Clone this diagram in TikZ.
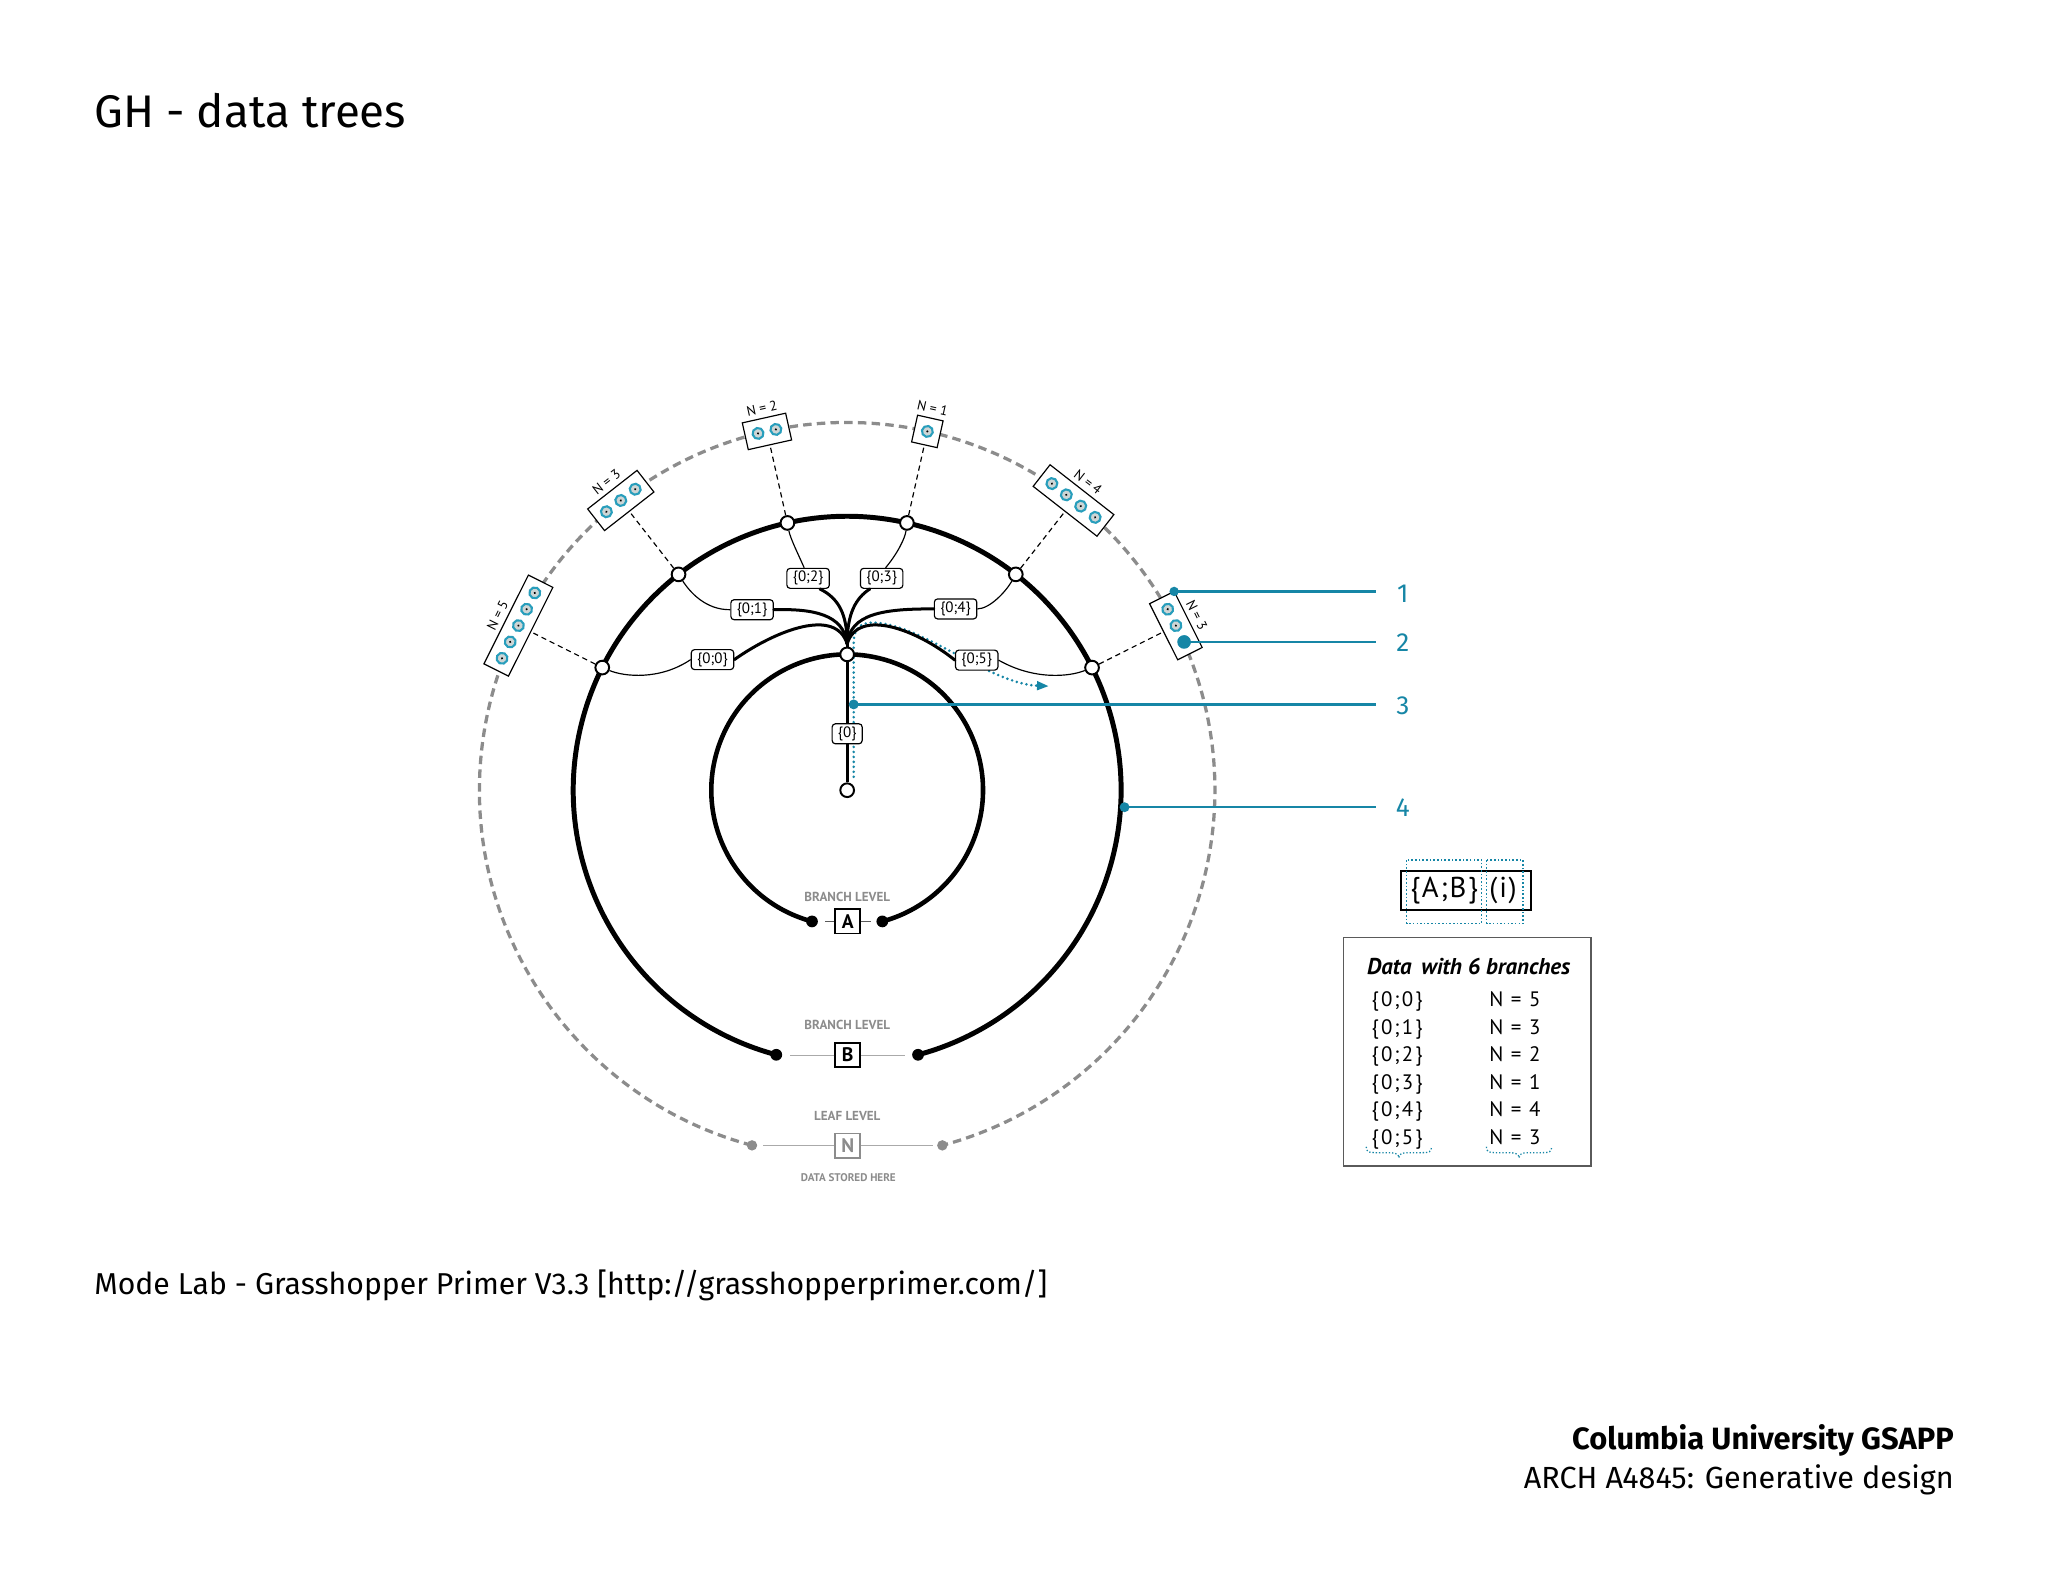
\documentclass[tikz,border=0pt]{standalone}
\usepackage{fontspec}
\setmainfont{Fira Sans}
\newfontfamily\dfont{PT Sans}
\usetikzlibrary{calc,arrows.meta}
\definecolor{ringc}{RGB}{40,158,188}
\definecolor{cblue}{RGB}{22,134,166}
\definecolor{lgray}{RGB}{140,140,140}
\definecolor{llgray}{RGB}{170,170,170}
\definecolor{ringfill}{RGB}{205,213,213}
\definecolor{boxgray}{RGB}{90,90,90}

\newcommand{\databox}[3]{%
  \pgfmathsetmacro{\brot}{-(#1)-90}%
  \pgfmathsetmacro{\bhw}{3+7*#2}%
  \begin{scope}[shift={($(C)+(#1:281.5)$)},rotate=\brot]
    \draw[fill=white,line width=0.9pt] (-\bhw,-10.5) rectangle (\bhw,10.5);
    \foreach \k in {1,...,#2}{%
      \pgfmathsetmacro{\tpos}{(\k-(#2+1)/2)*14}%
      \draw[ringc,fill=ringfill,line width=1.6pt] (\tpos,0) circle (4.2);
      \fill[black] (\tpos,0) circle (0.9);
    }
    \coordinate (bin#3) at (0,10.5);
    \node[nlab,rotate=\brot] (nl#3) at (0,-18) {N = #2};
  \end{scope}
}

\begin{document}
\begin{tikzpicture}[x=1pt,y=-1pt,
  wnode/.style={circle,draw=black,fill=white,line width=1.5pt,inner sep=0pt,minimum size=10.5pt},
  enddot/.style={circle,fill=black,inner sep=0pt,minimum size=9pt},
  graydot/.style={circle,fill=lgray,inner sep=0pt,minimum size=8pt},
  blabel/.style={draw,fill=white,rounded corners=2.5pt,line width=0.9pt,inner sep=0pt,minimum width=32.5pt,minimum height=15.3pt,font=\dfont\fontsize{11.5}{12}\selectfont},
  thickb/.style={line width=2.3pt,line cap=round},
  thinb/.style={line width=0.9pt},
  dconn/.style={line width=0.9pt,dash pattern=on 4pt off 3pt},
  callout/.style={cblue,line width=1.8pt},
  clabel/.style={text=cblue,font=\fontsize{20}{22}\selectfont,inner sep=0pt},
  nlab/.style={font=\dfont\fontsize{10.5}{11}\selectfont,inner sep=0pt},
  lvltext/.style={text=lgray,font=\dfont\bfseries\fontsize{10}{11}\selectfont,inner sep=0pt},
  lvlbox/.style={draw,line width=1.2pt,fill=white,inner sep=0pt,minimum width=19pt,minimum height=18.5pt,font=\dfont\bfseries\fontsize{15}{16}\selectfont},
  bluedots/.style={cblue,line width=2.2pt,line cap=round,dash pattern=on 0pt off 3.8pt},
  rowtext/.style={anchor=base west,inner sep=0pt,font=\dfont\fontsize{16}{18}\selectfont\addfontfeature{LetterSpace=10}},
  brace/.style={cblue,line width=1pt,dash pattern=on 1pt off 1.5pt}
]
\useasboundingbox (0,0) rectangle (1568,1211);
\coordinate (C) at (648.6,605);

% ---------- texts of the slide
\node[anchor=base west,inner sep=0pt,font=\fontsize{35}{40}\selectfont] (title) at (72,97.3) {GH - data trees};
\node[anchor=base west,inner sep=0pt,font=\fontsize{23.1}{26}\selectfont] (footer) at (72,991) {Mode Lab - Grasshopper Primer V3.3 [http://grasshopperprimer.com/]};
\node[anchor=base east,inner sep=0pt,font=\bfseries\fontsize{23.6}{26}\selectfont] (uni) at (1496,1110) {Columbia University GSAPP};
\node[anchor=base east,inner sep=0pt,font=\fontsize{23.4}{26}\selectfont] (course) at (1496,1139.5) {ARCH A4845: Generative design};

% ---------- outer dashed (leaf) circle
\draw[lgray,line width=2.5pt,dash pattern=on 6.5pt off 4pt] ($(C)+(105:281.5)$) arc[start angle=105,end angle=435,radius=281.5];
\node[graydot] (oa1) at ($(C)+(105:281.5)$) {};
\node[graydot] (oa2) at ($(C)+(75:281.5)$) {};

% ---------- data boxes
\databox{206.6}{5}{0}
\databox{232.0}{3}{1}
\databox{257.4}{2}{2}
\databox{282.6}{1}{3}
\databox{308.0}{4}{4}
\databox{333.4}{3}{5}

% ---------- branch circles
\draw[line width=3.8pt] ($(C)+(105:209.7)$) arc[start angle=105,end angle=435,radius=209.7];
\draw[line width=3.5pt] ($(C)+(105:104)$) arc[start angle=105,end angle=435,radius=104];
\node[enddot] (ma1) at ($(C)+(105:209.7)$) {};
\node[enddot] (ma2) at ($(C)+(75:209.7)$) {};
\node[enddot] (ia1) at ($(C)+(105:104)$) {};
\node[enddot] (ia2) at ($(C)+(75:104)$) {};

% ---------- level labels
\node[lvltext] (bl1) at (648.7,686.5) {BRANCH LEVEL};
\node[lvlbox] (bA) at (649,705.3) {A};
\draw[boxgray,line width=0.9pt] (bA.west) -- ++(-7.5,0);
\draw[boxgray,line width=0.9pt] (bA.east) -- ++(7.5,0);
\node[lvltext] (bl2) at (648.7,785) {BRANCH LEVEL};
\node[lvlbox] (bB) at (649,807.8) {B};
\draw[llgray,line width=0.9pt] (bB.west) -- ++(-34,0);
\draw[llgray,line width=0.9pt] (bB.east) -- ++(34,0);
\node[lvltext] (ll) at (648.7,854.7) {LEAF LEVEL};
\node[lvlbox,draw=lgray,text=lgray] (bN) at (649,877.2) {N};
\draw[llgray,line width=0.9pt] (bN.west) -- ++(-55,0);
\draw[llgray,line width=0.9pt] (bN.east) -- ++(55,0);
\node[lvltext,font=\dfont\bfseries\fontsize{8.5}{9}\selectfont] (ds) at (649.5,901.4) {DATA STORED HERE};

% ---------- blue dotted path
\draw[bluedots,-{Triangle[length=9pt,width=6.5pt]}] (653.6,594.7) -- (653.6,492) .. controls (653.6,474) and (668,474) .. (690,481) .. controls (722,492) and (765,524) .. (803,525.3);

% ---------- nodes
\node[wnode] (root) at (C) {};
\node[wnode] (top) at ($(C)+(270:104)$) {};
\draw[line width=2.5pt] (top) -- (root);
\node[blabel,minimum width=23pt] (Lr) at (648.6,561.8) {\{0\}};

\node[wnode] (n0) at ($(C)+(206.6:209.7)$) {};
\node[wnode] (n1) at ($(C)+(232.0:209.7)$) {};
\node[wnode] (n2) at ($(C)+(257.4:209.7)$) {};
\node[wnode] (n3) at ($(C)+(282.6:209.7)$) {};
\node[wnode] (n4) at ($(C)+(308.0:209.7)$) {};
\node[wnode] (n5) at ($(C)+(333.4:209.7)$) {};

\node[blabel] (L0) at (545.5,505) {\{0;0\}};
\node[blabel] (L1) at (575.8,466.8) {\{0;1\}};
\node[blabel] (L2) at (618.7,442.8) {\{0;2\}};
\node[blabel] (L3) at (675,442.8) {\{0;3\}};
\node[blabel] (L4) at (731.6,466.2) {\{0;4\}};
\node[blabel] (L5) at (747.8,505.4) {\{0;5\}};

% ---------- thick branches to the merge point
\coordinate (M) at (648.6,493);
\draw[thickb] (L0.east) .. controls (595,482) and (640,465) .. (M);
\draw[thickb] (L1.east) .. controls (622,466) and (646,470) .. (M);
\draw[thickb] ($(L2.south)+(9,0)$) .. controls (642,458) and (648.6,470) .. (M);
\draw[thickb] ($(L3.south)+(-9,0)$) .. controls (655,458) and (648.6,470) .. (M);
\draw[thickb] (L4.west) .. controls (676,466) and (651,470) .. (M);
\draw[thickb] (L5.west) .. controls (702,482) and (657,465) .. (M);
\draw[thickb] (M) -- (top);

% ---------- thin branches to the nodes
\draw[thinb] (L0.west) .. controls (505,521) and (478,518) .. (n0);
\draw[thinb] (L1.west) .. controls (540,467) and (528,453) .. (n1);
\draw[thinb] ($(L2.north)+(-3,0)$) .. controls (611,424) and (605,412) .. (n2);
\draw[thinb] ($(L3.north)+(3,0)$) .. controls (687,424) and (693,412) .. (n3);
\draw[thinb] (L4.east) .. controls (758,466) and (770,453) .. (n4);
\draw[thinb] (L5.east) .. controls (792,521) and (819,518) .. (n5);

% ---------- dashed connectors to the data boxes
\draw[dconn] (n0) -- (bin0);
\draw[dconn] (n1) -- (bin1);
\draw[dconn] (n2) -- (bin2);
\draw[dconn] (n3) -- (bin3);
\draw[dconn] (n4) -- (bin4);
\draw[dconn] (n5) -- (bin5);

% ---------- callouts
\coordinate (c1) at ($(C)+(333.4:292)+(423.4:-24)$);
\coordinate (c2) at ($(C)+(333.4:281.5)+(423.4:14)$);
\coordinate (c3) at (653.6,539.3);
\coordinate (c4) at (861,618);
\coordinate (ex) at (1053.6,0);
\node[clabel] (t1) at (1074,454.5) {1};
\node[clabel] (t2) at (1074,492) {2};
\node[clabel] (t3) at (1074,540) {3};
\node[clabel] (t4) at (1074,618.7) {4};
\draw[callout] (c1) -- (c1 -| ex);
\draw[callout] (c2) -- (c2 -| ex);
\draw[callout] (c3) -- (c3 -| ex);
\draw[callout] (c4) -- (c4 -| ex);
\fill[cblue] (c1) circle (3.6);
\fill[cblue] (c2) circle (5.2);
\fill[cblue] (c3) circle (3.8);
\fill[cblue] (c4) circle (3.8);

% ---------- path notation
\node[draw,line width=1.3pt,minimum width=99.8pt,minimum height=29.8pt,inner sep=0pt] (abbox) at (1122.4,681.9) {};
\node[inner sep=0pt,font=\dfont\fontsize{22}{24}\selectfont\addfontfeature{LetterSpace=6}] (ab) at (1105.7,682) {\{A;B\}};
\node[inner sep=0pt,font=\dfont\fontsize{22}{24}\selectfont\addfontfeature{LetterSpace=6}] (ii) at (1150.8,682) {(i)};
\draw[cblue,line width=1pt,dash pattern=on 1.2pt off 1.6pt] (1077,658.5) rectangle (1134.5,707);
\draw[cblue,line width=1pt,dash pattern=on 1.2pt off 1.6pt] (1138.3,658.5) rectangle (1166,707);

% ---------- table
\node[draw=boxgray,line width=1pt,minimum width=189.7pt,minimum height=175.1pt,inner sep=0pt] (tbl) at (1123.35,805.25) {};
\node[anchor=base west,inner sep=0pt,font=\dfont\bfseries\itshape\fontsize{17.5}{19}\selectfont] (thead) at (1046.5,745.8) {Data\hspace{3pt} with 6 branches};
\node[rowtext] (r0) at (1050,770.8) {\{0;0\}};
\node[rowtext] (r1) at (1050,791.7) {\{0;1\}};
\node[rowtext] (r2) at (1050,812.9) {\{0;2\}};
\node[rowtext] (r3) at (1050,834) {\{0;3\}};
\node[rowtext] (r4) at (1050,855) {\{0;4\}};
\node[rowtext] (r5) at (1050,876) {\{0;5\}};
\node[rowtext] (s0) at (1140,770.8) {N = 5};
\node[rowtext] (s1) at (1140,791.7) {N = 3};
\node[rowtext] (s2) at (1140,812.9) {N = 2};
\node[rowtext] (s3) at (1140,834) {N = 1};
\node[rowtext] (s4) at (1140,855) {N = 4};
\node[rowtext] (s5) at (1140,876) {N = 3};
\draw[brace] (1046,878) .. controls (1046,882) and (1048,882.5) .. (1053,882.5) -- (1064,882.5) .. controls (1069,882.5) and (1071,884) .. (1071,886.5) .. controls (1071,884) and (1073,882.5) .. (1078,882.5) -- (1089,882.5) .. controls (1094,882.5) and (1096,882) .. (1096,878);
\draw[brace] (1138,878) .. controls (1138,882) and (1140,882.5) .. (1145,882.5) -- (1156,882.5) .. controls (1161,882.5) and (1163,884) .. (1163,886.5) .. controls (1163,884) and (1165,882.5) .. (1170,882.5) -- (1181,882.5) .. controls (1186,882.5) and (1188,882) .. (1188,878);
\end{tikzpicture}
\end{document}
